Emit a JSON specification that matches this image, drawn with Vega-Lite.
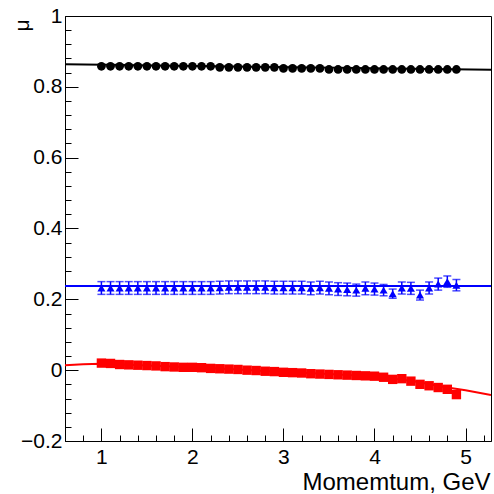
{
  "$schema": "https://vega.github.io/schema/vega-lite/v6.json",
  "width": 426,
  "height": 425,
  "autosize": {"type": "none"},
  "padding": {"left": 65, "top": 16, "right": 3, "bottom": 53},
  "background": "white",
  "config": {
    "view": {"stroke": "black", "strokeWidth": 1},
    "font": "Liberation Sans"
  },
  "datasets": {
    "blackFit": [
      {"p": 0.6, "mu": 0.864},
      {"p": 5.28, "mu": 0.848}
    ],
    "blueFit": [
      {"p": 0.6, "mu": 0.238},
      {"p": 5.28, "mu": 0.238}
    ],
    "redFit": [
      {"p": 0.6, "mu": 0.014},
      {"p": 0.8, "mu": 0.017},
      {"p": 1.0, "mu": 0.018},
      {"p": 1.5, "mu": 0.013},
      {"p": 2.0, "mu": 0.008},
      {"p": 2.5, "mu": 0.002},
      {"p": 3.0, "mu": -0.005},
      {"p": 3.5, "mu": -0.011},
      {"p": 4.0, "mu": -0.018},
      {"p": 4.4, "mu": -0.030},
      {"p": 4.8, "mu": -0.049},
      {"p": 5.0, "mu": -0.057},
      {"p": 5.28, "mu": -0.070}
    ],
    "black": [
      {"p": 1.0, "mu": 0.858}, {"p": 1.1, "mu": 0.858}, {"p": 1.2, "mu": 0.858}, {"p": 1.3, "mu": 0.858},
      {"p": 1.4, "mu": 0.858}, {"p": 1.5, "mu": 0.858}, {"p": 1.6, "mu": 0.858}, {"p": 1.7, "mu": 0.858},
      {"p": 1.8, "mu": 0.858}, {"p": 1.9, "mu": 0.858}, {"p": 2.0, "mu": 0.858}, {"p": 2.1, "mu": 0.858},
      {"p": 2.2, "mu": 0.858}, {"p": 2.3, "mu": 0.855}, {"p": 2.4, "mu": 0.855}, {"p": 2.5, "mu": 0.855},
      {"p": 2.6, "mu": 0.855}, {"p": 2.7, "mu": 0.855}, {"p": 2.8, "mu": 0.855}, {"p": 2.9, "mu": 0.855},
      {"p": 3.0, "mu": 0.852}, {"p": 3.1, "mu": 0.852}, {"p": 3.2, "mu": 0.852}, {"p": 3.3, "mu": 0.852},
      {"p": 3.4, "mu": 0.852}, {"p": 3.5, "mu": 0.849}, {"p": 3.6, "mu": 0.849}, {"p": 3.7, "mu": 0.849},
      {"p": 3.8, "mu": 0.849}, {"p": 3.9, "mu": 0.849}, {"p": 4.0, "mu": 0.849}, {"p": 4.1, "mu": 0.849},
      {"p": 4.2, "mu": 0.849}, {"p": 4.3, "mu": 0.849}, {"p": 4.4, "mu": 0.849}, {"p": 4.5, "mu": 0.849},
      {"p": 4.6, "mu": 0.849}, {"p": 4.7, "mu": 0.849}, {"p": 4.8, "mu": 0.849}, {"p": 4.9, "mu": 0.849}
    ],
    "blue": [
      {"p": 1.0, "mu": 0.232, "lo": 0.214, "hi": 0.250}, {"p": 1.1, "mu": 0.232, "lo": 0.214, "hi": 0.250},
      {"p": 1.2, "mu": 0.232, "lo": 0.214, "hi": 0.250}, {"p": 1.3, "mu": 0.232, "lo": 0.214, "hi": 0.250},
      {"p": 1.4, "mu": 0.232, "lo": 0.214, "hi": 0.250}, {"p": 1.5, "mu": 0.232, "lo": 0.214, "hi": 0.250},
      {"p": 1.6, "mu": 0.232, "lo": 0.214, "hi": 0.250}, {"p": 1.7, "mu": 0.232, "lo": 0.214, "hi": 0.250},
      {"p": 1.8, "mu": 0.232, "lo": 0.214, "hi": 0.250}, {"p": 1.9, "mu": 0.232, "lo": 0.214, "hi": 0.250},
      {"p": 2.0, "mu": 0.232, "lo": 0.214, "hi": 0.250}, {"p": 2.1, "mu": 0.232, "lo": 0.214, "hi": 0.250},
      {"p": 2.2, "mu": 0.232, "lo": 0.214, "hi": 0.250}, {"p": 2.3, "mu": 0.233, "lo": 0.215, "hi": 0.251},
      {"p": 2.4, "mu": 0.234, "lo": 0.216, "hi": 0.252}, {"p": 2.5, "mu": 0.234, "lo": 0.216, "hi": 0.252},
      {"p": 2.6, "mu": 0.234, "lo": 0.216, "hi": 0.252}, {"p": 2.7, "mu": 0.234, "lo": 0.216, "hi": 0.252},
      {"p": 2.8, "mu": 0.234, "lo": 0.216, "hi": 0.252}, {"p": 2.9, "mu": 0.233, "lo": 0.215, "hi": 0.251},
      {"p": 3.0, "mu": 0.233, "lo": 0.215, "hi": 0.251}, {"p": 3.1, "mu": 0.233, "lo": 0.215, "hi": 0.251},
      {"p": 3.2, "mu": 0.233, "lo": 0.215, "hi": 0.251}, {"p": 3.3, "mu": 0.231, "lo": 0.213, "hi": 0.249},
      {"p": 3.4, "mu": 0.233, "lo": 0.215, "hi": 0.251}, {"p": 3.5, "mu": 0.231, "lo": 0.213, "hi": 0.249},
      {"p": 3.6, "mu": 0.229, "lo": 0.211, "hi": 0.247}, {"p": 3.7, "mu": 0.228, "lo": 0.210, "hi": 0.246},
      {"p": 3.8, "mu": 0.226, "lo": 0.209, "hi": 0.243}, {"p": 3.9, "mu": 0.231, "lo": 0.213, "hi": 0.249},
      {"p": 4.0, "mu": 0.229, "lo": 0.212, "hi": 0.246}, {"p": 4.1, "mu": 0.226, "lo": 0.210, "hi": 0.242},
      {"p": 4.2, "mu": 0.216, "lo": 0.203, "hi": 0.229}, {"p": 4.3, "mu": 0.232, "lo": 0.215, "hi": 0.249},
      {"p": 4.4, "mu": 0.231, "lo": 0.214, "hi": 0.248}, {"p": 4.5, "mu": 0.212, "lo": 0.198, "hi": 0.226},
      {"p": 4.6, "mu": 0.232, "lo": 0.215, "hi": 0.249}, {"p": 4.7, "mu": 0.243, "lo": 0.226, "hi": 0.260},
      {"p": 4.8, "mu": 0.250, "lo": 0.234, "hi": 0.266}, {"p": 4.9, "mu": 0.240, "lo": 0.224, "hi": 0.256}
    ],
    "red": [
      {"p": 1.0, "mu": 0.020}, {"p": 1.1, "mu": 0.019}, {"p": 1.2, "mu": 0.016}, {"p": 1.3, "mu": 0.015},
      {"p": 1.4, "mu": 0.014}, {"p": 1.5, "mu": 0.013}, {"p": 1.6, "mu": 0.012}, {"p": 1.7, "mu": 0.010},
      {"p": 1.8, "mu": 0.009}, {"p": 1.9, "mu": 0.008}, {"p": 2.0, "mu": 0.008}, {"p": 2.1, "mu": 0.007},
      {"p": 2.2, "mu": 0.005}, {"p": 2.3, "mu": 0.004}, {"p": 2.4, "mu": 0.003}, {"p": 2.5, "mu": 0.002},
      {"p": 2.6, "mu": 0.000}, {"p": 2.7, "mu": -0.001}, {"p": 2.8, "mu": -0.003}, {"p": 2.9, "mu": -0.004},
      {"p": 3.0, "mu": -0.006}, {"p": 3.1, "mu": -0.007}, {"p": 3.2, "mu": -0.008}, {"p": 3.3, "mu": -0.010},
      {"p": 3.4, "mu": -0.011}, {"p": 3.5, "mu": -0.012}, {"p": 3.6, "mu": -0.013}, {"p": 3.7, "mu": -0.014},
      {"p": 3.8, "mu": -0.015}, {"p": 3.9, "mu": -0.016}, {"p": 4.0, "mu": -0.017}, {"p": 4.1, "mu": -0.020},
      {"p": 4.2, "mu": -0.026}, {"p": 4.3, "mu": -0.024}, {"p": 4.4, "mu": -0.031}, {"p": 4.5, "mu": -0.040},
      {"p": 4.6, "mu": -0.044}, {"p": 4.7, "mu": -0.049}, {"p": 4.8, "mu": -0.054}, {"p": 4.9, "mu": -0.069}
    ]
  },
  "resolve": {
    "scale": {"x": "shared", "y": "shared"},
    "axis": {"x": "independent", "y": "independent"}
  },
  "layer": [
    {
      "data": {"name": "blackFit"},
      "mark": {"type": "line", "color": "black", "strokeWidth": 2, "clip": true},
      "encoding": {
        "x": {
          "field": "p", "type": "quantitative",
          "scale": {"domain": [0.6, 5.28], "nice": false, "zero": false},
          "axis": {
            "orient": "bottom",
            "values": [1, 2, 3, 4, 5],
            "format": "~g",
            "grid": false,
            "domainColor": "black",
            "domainWidth": 1,
            "tickColor": "black",
            "tickWidth": 1,
            "tickSize": -13,
            "labelPadding": 18,
            "labelFont": "Liberation Sans",
            "labelFontSize": 21,
            "labelColor": "black",
            "labelFlush": false,
            "labelOverlap": false,
            "title": "Momemtum, GeV",
            "titleFont": "Liberation Sans",
            "titleFontSize": 24,
            "titleFontWeight": "normal",
            "titleColor": "black",
            "titleAngle": 0,
            "titleAlign": "right",
            "titleAnchor": "end",
            "titleBaseline": "alphabetic",
            "titleX": 425,
            "titleY": 48
          }
        },
        "y": {
          "field": "mu", "type": "quantitative",
          "scale": {"domain": [-0.2, 1], "nice": false, "zero": false},
          "axis": {
            "orient": "left",
            "values": [-0.2, 0, 0.2, 0.4, 0.6, 0.8, 1],
            "format": "~g",
            "grid": false,
            "domainColor": "black",
            "domainWidth": 1,
            "tickColor": "black",
            "tickWidth": 1,
            "tickSize": -13,
            "labelPadding": 16,
            "labelFont": "Liberation Sans",
            "labelFontSize": 21,
            "labelColor": "black",
            "labelFlush": false,
            "labelOverlap": false,
            "title": "μ",
            "titleFont": "Liberation Sans",
            "titleFontSize": 21,
            "titleFontWeight": "normal",
            "titleColor": "black",
            "titleAngle": 270,
            "titleAlign": "right",
            "titleBaseline": "alphabetic",
            "titleX": -37,
            "titleY": 3
          }
        }
      }
    },
    {
      "data": {"name": "blueFit"},
      "mark": {"type": "line", "color": "#0000ff", "strokeWidth": 2, "clip": true},
      "encoding": {
        "x": {
          "field": "p", "type": "quantitative",
          "scale": {"domain": [0.6, 5.28], "nice": false, "zero": false},
          "axis": {
            "orient": "bottom",
            "values": [0.8, 1.2, 1.4, 1.6, 1.8, 2.2, 2.4, 2.6, 2.8, 3.2, 3.4, 3.6, 3.8, 4.2, 4.4, 4.6, 4.8, 5.2],
            "grid": false,
            "domain": false,
            "labels": false,
            "tickColor": "black",
            "tickWidth": 1,
            "tickSize": -6,
            "title": null
          }
        },
        "y": {
          "field": "mu", "type": "quantitative",
          "scale": {"domain": [-0.2, 1], "nice": false, "zero": false},
          "axis": {
            "orient": "left",
            "values": [-0.16, -0.12, -0.08, -0.04, 0.04, 0.08, 0.12, 0.16, 0.24, 0.28, 0.32, 0.36, 0.44, 0.48, 0.52, 0.56, 0.64, 0.68, 0.72, 0.76, 0.84, 0.88, 0.92, 0.96],
            "grid": false,
            "domain": false,
            "labels": false,
            "tickColor": "black",
            "tickWidth": 1,
            "tickSize": -6,
            "title": null
          }
        }
      }
    },
    {
      "data": {"name": "redFit"},
      "mark": {"type": "line", "color": "#ff0000", "strokeWidth": 2, "clip": true},
      "encoding": {
        "x": {"field": "p", "type": "quantitative", "axis": null},
        "y": {"field": "mu", "type": "quantitative", "axis": null}
      }
    },
    {
      "data": {"name": "blue"},
      "mark": {"type": "errorbar", "color": "#0000ff", "thickness": 1.5, "ticks": {"size": 8, "thickness": 1.5}},
      "encoding": {
        "x": {"field": "p", "type": "quantitative", "axis": null},
        "y": {"field": "lo", "type": "quantitative", "axis": null},
        "y2": {"field": "hi"}
      }
    },
    {
      "data": {"name": "black"},
      "mark": {"type": "point", "shape": "circle", "filled": true, "color": "black", "size": 76, "opacity": 1},
      "encoding": {
        "x": {"field": "p", "type": "quantitative", "axis": null},
        "y": {"field": "mu", "type": "quantitative", "axis": null}
      }
    },
    {
      "data": {"name": "blue"},
      "mark": {"type": "point", "shape": "triangle-up", "filled": true, "color": "#0000ff", "size": 65, "opacity": 1},
      "encoding": {
        "x": {"field": "p", "type": "quantitative", "axis": null},
        "y": {"field": "mu", "type": "quantitative", "axis": null}
      }
    },
    {
      "data": {"name": "red"},
      "mark": {"type": "point", "shape": "square", "filled": true, "color": "#ff0000", "size": 88, "opacity": 1},
      "encoding": {
        "x": {"field": "p", "type": "quantitative", "axis": null},
        "y": {"field": "mu", "type": "quantitative", "axis": null}
      }
    }
  ]
}
